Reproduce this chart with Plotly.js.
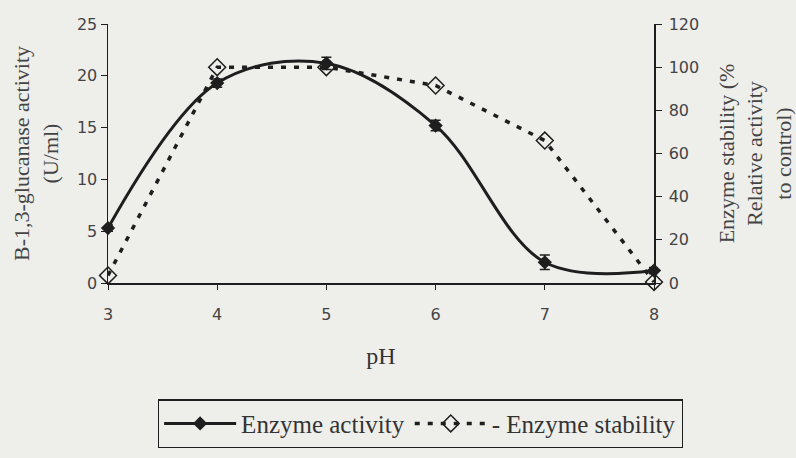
<!DOCTYPE html>
<html><head><meta charset="utf-8">
<script src="https://cdn.plot.ly/plotly-3.0.1.min.js"></script>
<style>html,body{margin:0;padding:0;background:#eeeeeb;}</style>
</head><body>
<div id="chart" style="width:796px;height:458px;"></div>
<script>
const pH = [3, 4, 5, 6, 7, 8];
const activity = [5.3, 19.3, 21.2, 15.2, 2.0, 1.2];
const activityErr = [0.3, 0.4, 0.6, 0.5, 0.7, 0.3];
const stability = [3.5, 100, 100, 91.5, 66, 0.5];
const xTicks = [3, 4, 5, 6, 7, 8];
const leftTicks = [0, 5, 10, 15, 20, 25];
const rightTicks = [0, 20, 40, 60, 80, 100, 120];

const ink = '#1e1e1e';
const tickFont = {family: 'DejaVu Sans, sans-serif', size: 16, color: '#444'};
const serif = 'Liberation Serif, Times New Roman, serif';

const traces = [
  {
    x: pH, y: activity, name: 'Enzyme activity', type: 'scatter', mode: 'lines+markers',
    line: {color: ink, width: 3, shape: 'spline', smoothing: 1},
    marker: {symbol: 'diamond', size: 11, color: ink},
    error_y: {type: 'data', array: activityErr, visible: true, color: ink, thickness: 1.5, width: 5},
    cliponaxis: false, yaxis: 'y'
  },
  {
    x: pH, y: stability, name: '- Enzyme stability', type: 'scatter', mode: 'lines+markers',
    line: {color: ink, width: 3.5, dash: '5px,8px'},
    marker: {symbol: 'diamond-open', size: 13, color: ink, line: {width: 1.5}},
    cliponaxis: false, yaxis: 'y2'
  }
];

const layout = {
  width: 796, height: 458,
  paper_bgcolor: '#eeeeeb', plot_bgcolor: 'rgba(0,0,0,0)',
  margin: {l: 108, r: 142, t: 24, b: 175},
  showlegend: true,
  legend: {
    orientation: 'h', x: 0.572, xanchor: 'center', y: 0.128, yref: 'container', yanchor: 'top',
    bordercolor: ink, borderwidth: 1.3, bgcolor: 'rgba(0,0,0,0)',
    font: {family: serif, size: 25, color: '#333'},
    itemwidth: 72, tracegroupgap: 0
  },
  xaxis: {
    range: [3, 8], tickvals: xTicks, ticktext: xTicks.map(String),
    showgrid: false, zeroline: false, showline: true, linecolor: ink, linewidth: 1.5,
    ticks: 'outside', ticklen: 5, tickcolor: ink, ticklabelstandoff: 11,
    tickfont: tickFont,
    title: {text: 'pH', font: {family: serif, size: 24, color: '#333'}, standoff: 24}
  },
  yaxis: {
    range: [0, 25], tickvals: leftTicks,
    showgrid: false, zeroline: false, showline: true, linecolor: ink, linewidth: 1.5,
    ticks: 'outside', ticklen: 6, tickcolor: ink,
    tickfont: tickFont,
    title: {text: 'B-1,3-glucanase activity<br>(U/ml)', font: {family: serif, size: 22, color: '#444'}, standoff: 12}
  },
  yaxis2: {
    range: [0, 120], tickvals: rightTicks, overlaying: 'y', side: 'right', anchor: 'x',
    showgrid: false, zeroline: false, showline: true, linecolor: ink, linewidth: 1.5,
    ticks: 'outside', ticklen: 6, tickcolor: ink, ticklabelstandoff: 4,
    tickfont: tickFont,
    title: {text: 'Enzyme stability (%<br>Relative activity<br>to control)', font: {family: serif, size: 22, color: '#444'}, standoff: 24}
  },
  yaxis3: {
    range: [0, 120], tickvals: rightTicks, overlaying: 'y', side: 'right', anchor: 'x',
    showgrid: false, zeroline: false, showline: false, showticklabels: false,
    ticks: 'inside', ticklen: 6, tickcolor: ink
  }
};

Plotly.newPlot('chart', traces, layout, {displayModeBar: false, staticPlot: true});
</script>
</body></html>
